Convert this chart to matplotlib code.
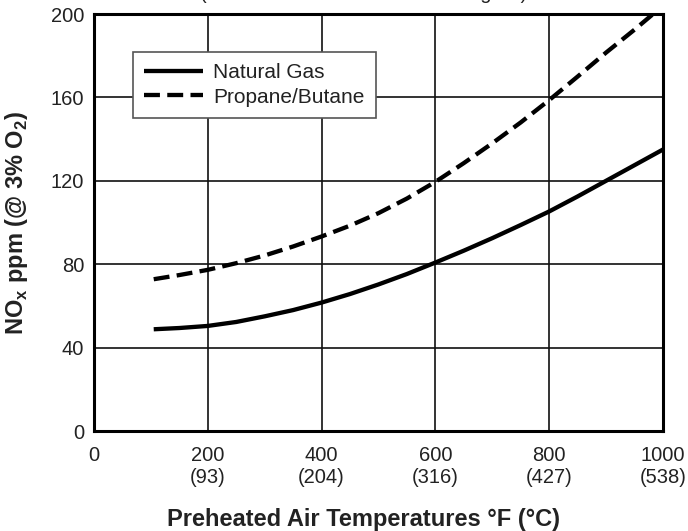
import matplotlib
matplotlib.use("Agg")
import matplotlib.pyplot as plt

temps_f = [105, 150, 200, 250, 300, 350, 400, 450, 500, 550, 600, 650, 700, 750, 800, 850, 900, 950, 1000]
natural_gas = [48.8, 49.4, 50.4, 52.3, 55.0, 58.0, 61.6, 65.7, 70.3, 75.3, 80.8, 86.5, 92.5, 98.8, 105.3, 112.5, 120.0, 127.5, 135.0]
propane_butane = [72.8, 74.8, 77.3, 80.5, 84.2, 88.5, 93.3, 98.5, 104.5, 111.5, 119.5, 128.5, 138.0, 148.0, 158.7, 170.0, 181.5, 192.5, 204.0]
xticks = [0, 200, 400, 600, 800, 1000]
xtick_labels = ["0", "200\n(93)", "400\n(204)", "600\n(316)", "800\n(427)", "1000\n(538)"]
yticks = [0, 40, 80, 120, 160, 200]

plt.rcParams['font.family'] = ['Liberation Sans', 'DejaVu Sans']
plt.rcParams['mathtext.fontset'] = 'custom'
plt.rcParams['mathtext.rm'] = 'Liberation Sans'
plt.rcParams['mathtext.bf'] = 'Liberation Sans:bold'

fig = plt.figure(figsize=(6.88, 5.31), dpi=100)
ax = fig.add_axes([0.1366, 0.1883, 0.827, 0.7853])

ax.plot(temps_f, natural_gas, color='black', lw=3.1, solid_capstyle='butt', label='Natural Gas', zorder=3)
ax.plot(temps_f, propane_butane, color='black', lw=3.1, dashes=(3.7, 1.7), label='Propane/Butane', zorder=3)

ax.set_xlim(0, 1000)
ax.set_ylim(0, 200)
ax.set_xticks(xticks)
ax.set_xticklabels(xtick_labels, linespacing=1.2)
ax.set_yticks(yticks)
ax.tick_params(length=0, labelsize=14.5, colors='#222222', pad=7)
ax.tick_params(axis='x', pad=11)
ax.grid(True, color='#111111', lw=1.2)
for s in ax.spines.values():
    s.set_linewidth(2.2)
    s.set_color('black')

ax.set_xlabel('Preheated Air Temperatures °F (°C)', fontsize=17, fontweight='bold', color='#222222')
ax.xaxis.set_label_coords(0.473, -0.185)
ax.set_ylabel(r'NO$_\mathbf{x}$ ppm (@ 3% O$_\mathbf{2}$)', fontsize=17, fontweight='bold', labelpad=15, color='#222222')

leg = ax.legend(loc='upper left', bbox_to_anchor=(0.0685, 0.909), fontsize=15, frameon=True,
                fancybox=False, edgecolor='#555555', framealpha=1, handlelength=2.8,
                handletextpad=0.5, borderpad=0.55, labelspacing=0.25, borderaxespad=0)
leg.get_frame().set_linewidth(1.2)
for t in leg.get_texts():
    t.set_color('#222222')

fig.text(0.529, 1.002, '(Measured at 10% Excess Firing Air)', fontsize=14.5,
         ha='center', va='baseline', color='#222222')

fig.savefig('out.png', dpi=100)
